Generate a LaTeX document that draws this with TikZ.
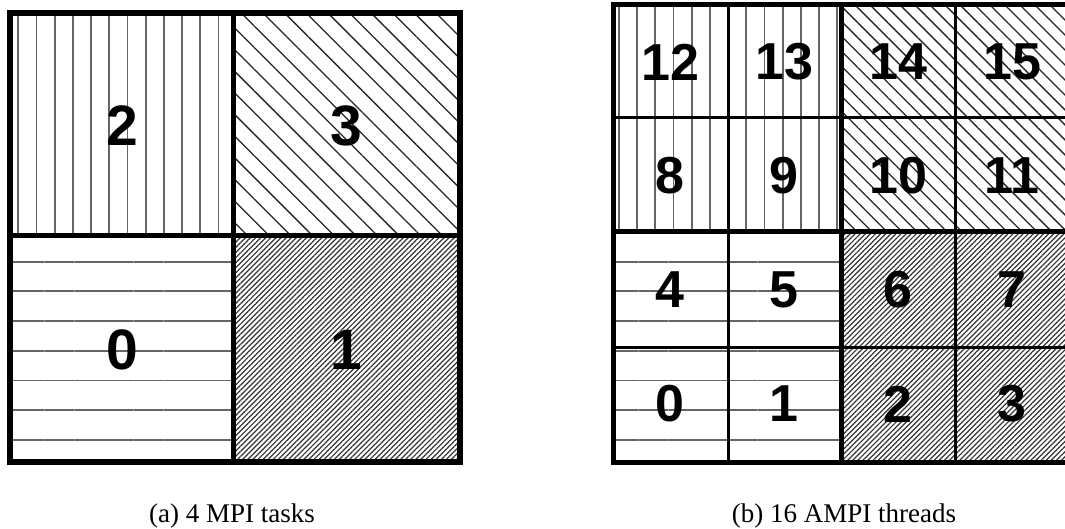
\documentclass[tikz,border=0pt]{standalone}
\usepackage{fontspec}
\setmainfont{Liberation Serif}
\newfontfamily\numfont{Liberation Sans}
\usetikzlibrary{patterns.meta}

\tikzset{
  vhatch/.style={pattern={Lines[angle=90,distance=18.2pt,line width=1.8pt]},pattern color=black!60},
  hhatch/.style={pattern={Lines[angle=0,distance=29.7pt,line width=1.8pt]},pattern color=black!60},
  shatch/.style={pattern={Lines[angle=-45,distance=#1,line width=1.3pt]},pattern color=black!85},
  shatch/.default=15.3pt,
  dhatch/.style={pattern={Lines[angle=45,distance=3.6pt,line width=1.2pt]},pattern color=black!80},
  bigno/.style={font=\numfont\bfseries\fontsize{57}{57}\selectfont,inner sep=0pt},
  smallno/.style={font=\numfont\bfseries\fontsize{52}{52}\selectfont,inner sep=0pt},
  subcap/.style={font=\fontsize{27}{27}\selectfont,anchor=base,inner sep=0pt},
}

\begin{document}
\begin{tikzpicture}[x=1pt,y=-1pt]
\useasboundingbox (0,0) rectangle (1065,529);
\fill[white] (0,0) rectangle (1065,529);

% 4 MPI tasks
\coordinate (l0) at (10,13);
\coordinate (lm) at (233,236);
\coordinate (l1) at (460,462);

\fill[vhatch] (l0) rectangle (lm);
\fill[shatch] (l0 -| l1) rectangle (lm);
\fill[hhatch] (l0 |- l1) rectangle (lm);
\fill[dhatch] (l1) rectangle (lm);
\draw[line width=5pt] (l0 -| lm) -- (l1 -| lm);
\draw[line width=5pt] (l0 |- lm) -- (l1 |- lm);
\draw[line width=5.5pt] (l0) rectangle (l1);

\node[bigno] (p2) at (122,126) {2};
\node[bigno] (p3) at (346,126) {3};
\node[bigno] (p0) at (122,350) {0};
\node[bigno] (p1) at (346,350) {1};

% 16 AMPI threads
\coordinate (r0) at (613,5);
\coordinate (rm) at (841,232);
\coordinate (r1) at (1069,462);

\fill[vhatch] (r0) rectangle (rm);
\fill[shatch=10.6pt] (r0 -| r1) rectangle (rm);
\fill[hhatch] (r0 |- r1) rectangle (rm);
\fill[dhatch] (r1) rectangle (rm);
\draw[line width=3pt] (728,5) -- (728,462);
\draw[line width=3pt] (955,5) -- (955,462);
\draw[line width=3pt] (613,118) -- (1069,118);
\draw[line width=3pt] (613,347) -- (1069,347);
\draw[line width=5pt] (r0 -| rm) -- (r1 -| rm);
\draw[line width=5pt] (r0 |- rm) -- (r1 |- rm);
\draw[line width=5pt] (r0) rectangle (r1);

\foreach \r in {0,...,3}{
  \foreach \c in {0,...,3}{
    \pgfmathtruncatemacro\tid{4*\r+\c}
    \node[smallno] (t\tid) at ({670+114*\c},{404-114*\r}) {\tid};
  }
}

\node[subcap] (capa) at (232,522) {(a) 4 MPI tasks};
\node[subcap] (capb) at (844,522) {(b) 16 AMPI threads};
\end{tikzpicture}
\end{document}
